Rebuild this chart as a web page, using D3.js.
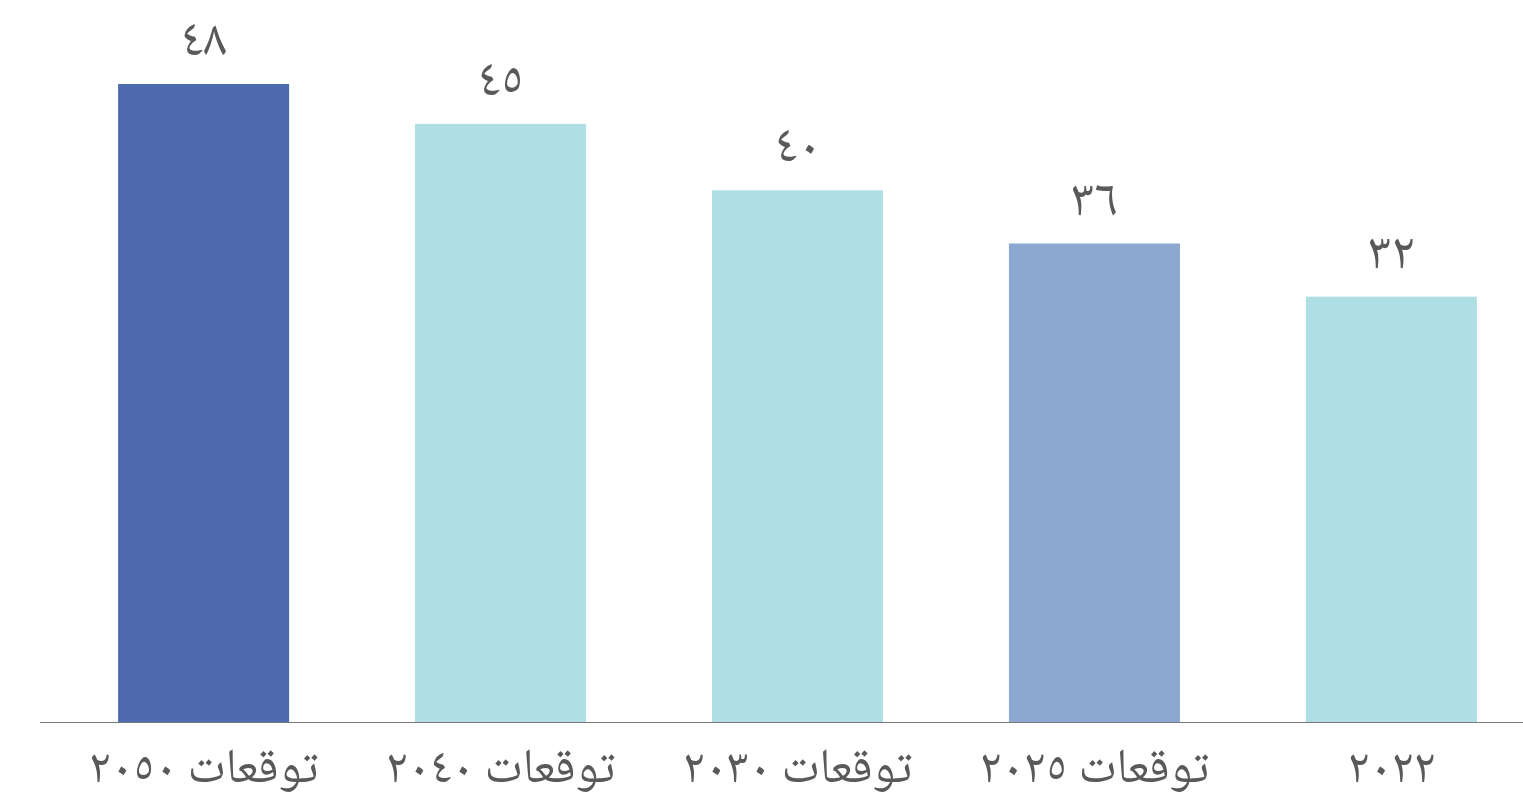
<!DOCTYPE html>
<html lang="ar">
<head>
<meta charset="utf-8">
<script src="https://cdn.jsdelivr.net/npm/d3@7"></script>
<style>
  html, body { margin: 0; padding: 0; background: #ffffff; }
  svg { display: block; }
  text { font-family: "Noto Naskh Arabic", "DejaVu Sans", "Noto Sans", sans-serif; fill: #595959; }
</style>
</head>
<body>
<svg id="chart" width="1523" height="804"></svg>
<script>
const categories = ["توقعات ٢٠٥٠", "توقعات ٢٠٤٠", "توقعات ٢٠٣٠", "توقعات ٢٠٢٥", "٢٠٢٢"];
const values = [48, 45, 40, 36, 32];
const valueLabels = ["٤٨", "٤٥", "٤٠", "٣٦", "٣٢"];
const colors = ["#4E6BAF", "#AFDFE4", "#AFDFE4", "#8CA8D0", "#AFDFE4"];

const svg = d3.select("#chart");
const baseY = 722;

const x = d3.scaleBand()
  .domain(categories)
  .range([40, 1555])
  .paddingInner(0.424)
  .paddingOuter(0.263);

const y = d3.scaleLinear()
  .domain([0, 48])
  .range([baseY, 84]);

svg.selectAll("rect.bar")
  .data(categories)
  .join("rect")
  .attr("class", "bar")
  .attr("x", d => x(d))
  .attr("width", x.bandwidth())
  .attr("y", (d, i) => y(values[i]))
  .attr("height", (d, i) => baseY - y(values[i]))
  .attr("fill", (d, i) => colors[i]);

svg.append("line")
  .attr("x1", 40).attr("x2", 1523)
  .attr("y1", baseY + 0.5).attr("y2", baseY + 0.5)
  .attr("stroke", "#7a7a7a").attr("stroke-width", 1);

svg.selectAll("text.val")
  .data(categories)
  .join("text")
  .attr("class", "val")
  .attr("x", d => x(d) + x.bandwidth() / 2)
  .attr("y", (d, i) => y(values[i]) - 29)
  .attr("text-anchor", "middle")
  .attr("font-size", 52)
  .text((d, i) => valueLabels[i]);

svg.selectAll("text.cat")
  .data(categories)
  .join("text")
  .attr("class", "cat")
  .attr("x", d => x(d) + x.bandwidth() / 2)
  .attr("y", 782)
  .attr("text-anchor", "middle")
  .attr("direction", "rtl")
  .attr("font-size", 49)
  .text(d => d);
</script>
</body>
</html>
